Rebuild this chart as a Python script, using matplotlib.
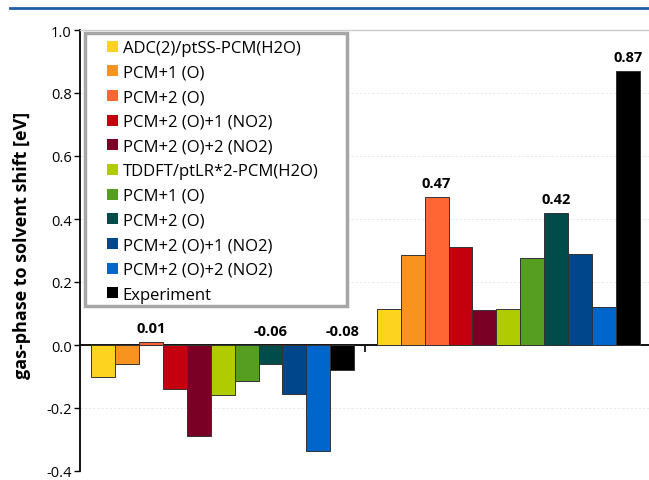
import numpy as np
import matplotlib
matplotlib.use("Agg")
import matplotlib.pyplot as plt
from matplotlib.patches import Patch, Rectangle
from matplotlib.lines import Line2D

plt.rcParams['font.family'] = ['Open Sans', 'DejaVu Sans']

# Data
groups = ['group 1', 'group 2']
series = ['ADC(2)/ptSS-PCM(H2O)', 'PCM+1 (O)', 'PCM+2 (O)', 'PCM+2 (O)+1 (NO2)',
          'PCM+2 (O)+2 (NO2)', 'TDDFT/ptLR*2-PCM(H2O)', 'PCM+1 (O)', 'PCM+2 (O)',
          'PCM+2 (O)+1 (NO2)', 'PCM+2 (O)+2 (NO2)', 'Experiment']
colors = ['#FDD320', '#F7931E', '#FF6633', '#C4000F', '#7A0026', '#B0CC00',
          '#569E21', '#004C4A', '#00468A', '#0066CC', '#000000']
group1 = [-0.10, -0.06, 0.01, -0.14, -0.29, -0.16, -0.115, -0.06, -0.155, -0.335, -0.08]
group2 = [0.114, 0.287, 0.47, 0.31, 0.11, 0.114, 0.276, 0.42, 0.288, 0.122, 0.87]
labelled = {0: [2, 7, 10], 1: [2, 7, 10]}

values = np.array([group1, group2])

W, H = 649, 481
fig = plt.figure(figsize=(W / 100, H / 100), dpi=100)
ax = fig.add_axes([80 / W, 1 - 472 / H, 571 / W, 441 / H])

n = len(series)
width = 0.92 / n
x = np.arange(len(groups))
for i in range(n):
    ax.bar(x - 0.46 + width * (i + 0.5), values[:, i], width, color=colors[i],
           edgecolor='#333333', linewidth=0.7, zorder=3)

# value labels
for g in range(len(groups)):
    for i in labelled[g]:
        v = values[g, i]
        xp = x[g] - 0.46 + width * (i + 0.5)
        yp = v + 0.022 if v > 0 else 0.022
        ax.text(xp, yp, f'{v:.2f}', ha='center', va='bottom', fontsize=10.5,
                fontweight='bold', zorder=4)

ax.set_xlim(-0.5, 1.5)
ax.set_ylim(-0.4, 1.0)
ax.set_yticks(np.arange(-0.4, 1.01, 0.2))
ax.set_yticklabels([f'{t:.1f}' for t in np.arange(-0.4, 1.01, 0.2)], fontsize=10.5)
ax.yaxis.grid(True, color='#E6E6E6', linestyle=(0, (3, 2)), linewidth=0.6, zorder=0)
ax.set_xticks([0.5])
ax.set_xticklabels([])
ax.tick_params(axis='x', length=5, width=1.2, direction='out')
ax.tick_params(axis='y', length=4, width=1, pad=2)

ax.spines['bottom'].set_position(('data', 0))
ax.spines['bottom'].set_linewidth(1.3)
ax.spines['left'].set_linewidth(1.3)
ax.spines['right'].set_visible(False)
ax.spines['top'].set_color('#CCCCCC')
ax.spines['top'].set_linewidth(1)

ax.set_ylabel('gas-phase to solvent shift [eV]', fontsize=13, fontweight='bold')
ax.yaxis.set_label_coords(31 / W, 1 - 245 / H, transform=fig.transFigure)

# legend with a separate grey frame
handles = [Patch(facecolor=c, edgecolor='none') for c in colors]
leg = fig.legend(handles, series, loc='upper left',
                 bbox_to_anchor=(107 / W, 1 - 41 / H),
                 fontsize=12, frameon=False, handlelength=0.65,
                 handleheight=0.65, handletextpad=0.3, labelspacing=0.52,
                 borderpad=0, borderaxespad=0)
leg.set_zorder(6)
frame = Rectangle((85 / W, 1 - 307 / H), (347 - 85) / W, (307 - 34) / H,
                  transform=fig.transFigure, facecolor='white',
                  edgecolor='#A6A6A6', linewidth=2.5, zorder=5)
fig.add_artist(frame)

# blue rule at the top
fig.add_artist(Line2D([10 / W, 1], [1 - 9 / H, 1 - 9 / H], color='#1F5FA8',
                      linewidth=2, transform=fig.transFigure))

fig.savefig('out.png', dpi=100)
